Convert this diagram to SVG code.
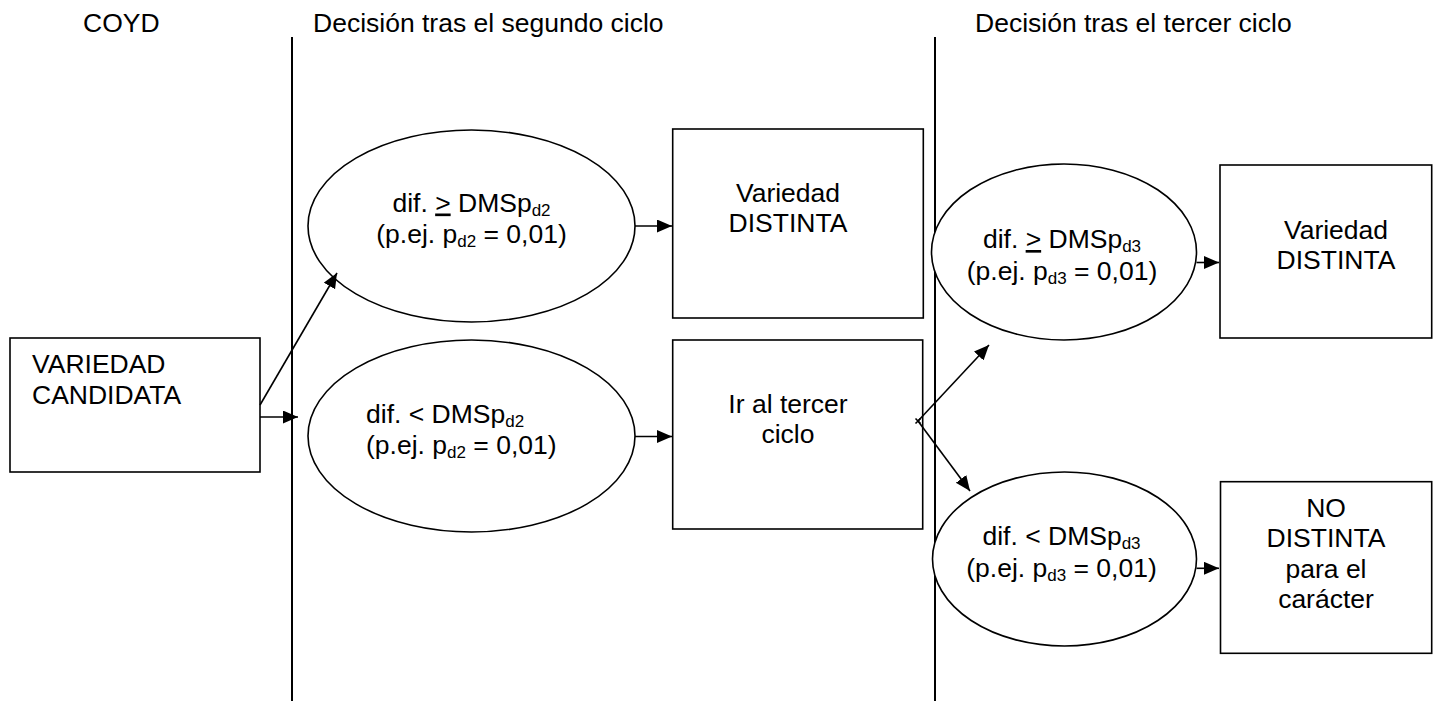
<svg xmlns="http://www.w3.org/2000/svg" width="1440" height="701" viewBox="0 0 1440 701">
<style>
text{font-family:"Liberation Sans",Arial,sans-serif;font-size:26.5px;fill:#000}
.sub{font-size:17px}
.shape{fill:#fff;stroke:#000;stroke-width:1.6}
.div{stroke:#000;stroke-width:2}
.con{stroke:#000;stroke-width:1.6;fill:none}
.c{text-anchor:middle}
</style>
<defs>
<marker id="ah" markerUnits="userSpaceOnUse" markerWidth="16" markerHeight="14" refX="15" refY="6.5" orient="auto">
<path d="M0,0 L15,6.5 L0,13 z" fill="#000"/>
</marker>
</defs>
<rect width="1440" height="701" fill="#fff"/>
<g id="headers">
<text x="83" y="32">COYD</text>
<text x="313" y="32">Decisión tras el segundo ciclo</text>
<text x="975" y="32">Decisión tras el tercer ciclo</text>
<line class="div" x1="292" y1="37" x2="292" y2="701"/>
<line class="div" x1="935" y1="37" x2="935" y2="701"/>
</g>
<g id="candidata">
<rect class="shape" x="10" y="338" width="250" height="134"/>
<text x="32" y="373">VARIEDAD</text>
<text x="32" y="404">CANDIDATA</text>
</g>
<g id="ell1">
<ellipse class="shape" cx="471.5" cy="226" rx="163.5" ry="96"/>
<text class="c" x="471.5" y="211.5">dif. <tspan text-decoration="underline">&gt;</tspan> DMSp<tspan class="sub" dy="4">d2</tspan></text>
<text class="c" x="471.5" y="243">(p.ej. p<tspan class="sub" dy="4">d2</tspan><tspan dy="-4"> = 0,01)</tspan></text>
</g>
<g id="ell2">
<ellipse class="shape" cx="471.5" cy="436" rx="163.5" ry="96"/>
<text x="366" y="422.5">dif. &lt; DMSp<tspan class="sub" dy="4">d2</tspan></text>
<text x="366" y="453.5">(p.ej. p<tspan class="sub" dy="4">d2</tspan><tspan dy="-4"> = 0,01)</tspan></text>
</g>
<g id="box1">
<rect class="shape" x="672.7" y="129" width="250.6" height="189"/>
<text class="c" x="788" y="202">Variedad</text>
<text class="c" x="788" y="232">DISTINTA</text>
</g>
<g id="box2">
<rect class="shape" x="672.7" y="340" width="250" height="189"/>
<text class="c" x="788" y="413">Ir al tercer</text>
<text class="c" x="788" y="443">ciclo</text>
</g>
<g id="ell3">
<ellipse class="shape" cx="1064" cy="252" rx="132.5" ry="88"/>
<text class="c" x="1062" y="248">dif. <tspan text-decoration="underline">&gt;</tspan> DMSp<tspan class="sub" dy="4">d3</tspan></text>
<text class="c" x="1062" y="280">(p.ej. p<tspan class="sub" dy="4">d3</tspan><tspan dy="-4"> = 0,01)</tspan></text>
</g>
<g id="ell4">
<ellipse class="shape" cx="1064.5" cy="559" rx="132" ry="87"/>
<text class="c" x="1061.5" y="545">dif. &lt; DMSp<tspan class="sub" dy="4">d3</tspan></text>
<text class="c" x="1061.5" y="577">(p.ej. p<tspan class="sub" dy="4">d3</tspan><tspan dy="-4"> = 0,01)</tspan></text>
</g>
<g id="box3">
<rect class="shape" x="1220" y="165" width="211.7" height="173"/>
<text class="c" x="1336" y="239">Variedad</text>
<text class="c" x="1336" y="268.5">DISTINTA</text>
</g>
<g id="box4">
<rect class="shape" x="1220.5" y="481.7" width="211.2" height="171.6"/>
<text class="c" x="1326" y="516.5">NO</text>
<text class="c" x="1326" y="547">DISTINTA</text>
<text class="c" x="1326" y="577.5">para el</text>
<text class="c" x="1326" y="608">carácter</text>
</g>
<g id="connectors">
<line class="con" x1="260" y1="405" x2="337" y2="273" marker-end="url(#ah)"/>
<line class="con" x1="260" y1="417" x2="298" y2="417" marker-end="url(#ah)"/>
<line class="con" x1="635" y1="226" x2="672" y2="226" marker-end="url(#ah)"/>
<line class="con" x1="635" y1="436.5" x2="672" y2="436.5" marker-end="url(#ah)"/>
<path class="con" d="M915.5,418.5 L920.5,423.5 M915.5,423.5 L920.5,418.5"/>
<line class="con" x1="918" y1="421" x2="989" y2="345" marker-end="url(#ah)"/>
<line class="con" x1="918" y1="421" x2="970" y2="491" marker-end="url(#ah)"/>
<line class="con" x1="1196.5" y1="262.5" x2="1219" y2="262.5" marker-end="url(#ah)"/>
<line class="con" x1="1196.5" y1="568.3" x2="1219" y2="568.3" marker-end="url(#ah)"/>
</g>
</svg>
